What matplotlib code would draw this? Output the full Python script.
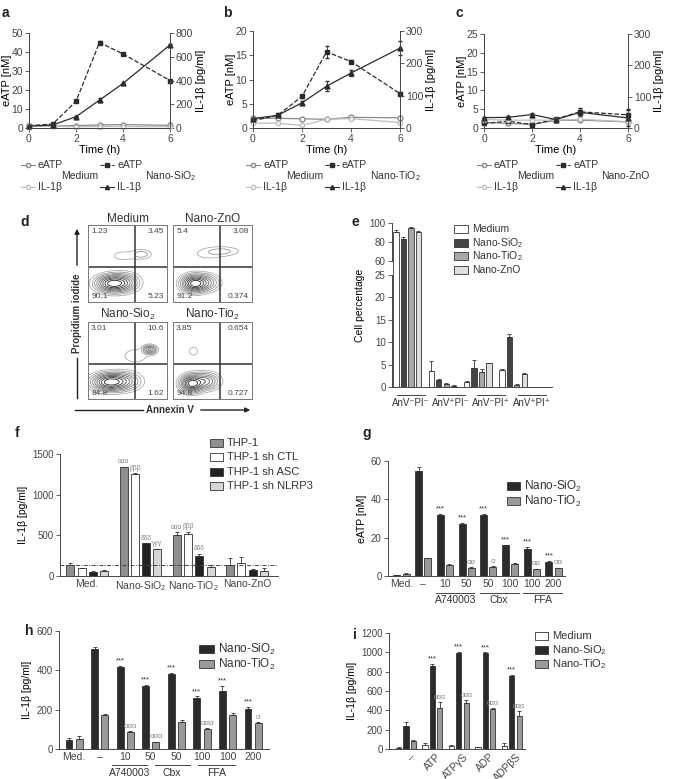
import numpy as np
import matplotlib.pyplot as plt
from matplotlib.patches import Rectangle

plt.rcParams['font.family'] = ['Liberation Sans', 'DejaVu Sans']
plt.rcParams['mathtext.fontset'] = 'custom'
plt.rcParams['mathtext.rm'] = 'Liberation Sans'
plt.rcParams['mathtext.default'] = 'regular'
plt.rcParams['axes.linewidth'] = 0.7
plt.rcParams['axes.edgecolor'] = '#444444'
plt.rcParams['text.color'] = '#333333'
plt.rcParams['xtick.color'] = '#444444'
plt.rcParams['ytick.color'] = '#444444'

W, H = 675, 779
DARK = '#2b2b2b'
GRAY = '#8a8a8a'
LIGHT = '#bdbdbd'
EDGE = '#333333'

# ---------------- data: a-c time courses ----------------
time_h = [0, 1, 2, 3, 4, 6]

a_eatp_med = [1.2, 1.0, 1.3, 1.6, 1.8, 1.4]
a_eatp_np = [1.3, 2.0, 14, 45, 39, 25]
a_eatp_np_err = [0.2, 0.2, 0.4, 1.0, 0.5, 0.4]
a_il_med = [15, 14, 10, 12, 12, 10]
a_il_np = [16, 25, 95, 235, 375, 700]
a_il_np_err = [3, 3, 5, 20, 8, 10]

b_eatp_med = [2.0, 2.0, 1.9, 1.8, 2.2, 2.1]
b_eatp_np = [1.5, 2.6, 6.5, 15.7, 13.7, 7.1]
b_eatp_np_err = [0.2, 0.2, 0.3, 1.2, 0.3, 0.3]
b_il_med = [15, 15, 8, 27, 29, 17]
b_il_np = [29, 39, 78, 129, 170, 247]
b_il_np_err = [2, 3, 4, 15, 8, 22]

c_eatp_med = [1.5, 1.2, 1.0, 2.0, 2.1, 1.6]
c_eatp_np = [1.2, 1.8, 0.9, 2.4, 4.3, 3.5]
c_eatp_np_err = [0.2, 0.2, 0.2, 0.3, 1.0, 1.5]
c_il_med = [27, 25, 25, 25, 28, 20]
c_il_np = [33, 34, 43, 27, 50, 32]
c_il_np_err = [2, 3, 4, 3, 8, 25]

# ---------------- data: d flow quadrants ----------------
d_titles = ['Medium', 'Nano-ZnO', 'Nano-Sio$_2$', 'Nano-Tio$_2$']
d_quadrants = [['1.23', '3.45', '90.1', '5.23'],
               ['5.4', '3.08', '91.2', '0.374'],
               ['3.01', '10.6', '84.8', '1.62'],
               ['3.85', '0.654', '94.8', '0.727']]
# blobs (cx, cy, sx, sy, weight)
d_blobs = [[(0.30, 0.24, 0.10, 0.055, 1.0), (0.44, 0.25, 0.10, 0.06, 0.5),
            (0.68, 0.62, 0.07, 0.035, 0.08), (0.45, 0.60, 0.12, 0.05, 0.03)],
           [(0.27, 0.24, 0.08, 0.055, 1.0), (0.40, 0.25, 0.09, 0.055, 0.35),
            (0.62, 0.66, 0.13, 0.035, 0.06), (0.45, 0.62, 0.14, 0.05, 0.025)],
           [(0.27, 0.22, 0.11, 0.055, 1.0), (0.44, 0.23, 0.11, 0.06, 0.4),
            (0.78, 0.64, 0.045, 0.03, 0.4), (0.60, 0.56, 0.10, 0.06, 0.04)],
           [(0.24, 0.20, 0.07, 0.055, 1.0), (0.40, 0.23, 0.09, 0.055, 0.45),
            (0.26, 0.62, 0.045, 0.045, 0.03)]]

# ---------------- data: e ----------------
e_groups = ['AnV\u207bPI\u207b', 'AnV\u207aPI\u207b', 'AnV\u207bPI\u207a', 'AnV\u207aPI\u207a']
e_series = ['Medium', 'Nano-SiO$_2$', 'Nano-TiO$_2$', 'Nano-ZnO']
e_vals = [[91, 3.6, 1.2, 3.8],
          [83, 1.6, 4.3, 11.1],
          [95, 0.6, 3.3, 0.5],
          [91, 0.3, 5.3, 3.0]]
e_errs = [[2, 2.3, 0.1, 0.2],
          [2.5, 0.1, 1.8, 0.7],
          [1, 0.2, 0.8, 0.1],
          [0.5, 0.1, 0.1, 0.1]]

# ---------------- data: f ----------------
f_groups = ['Med.', 'Nano-SiO$_2$', 'Nano-TiO$_2$', 'Nano-ZnO']
f_series = ['THP-1', 'THP-1 sh CTL', 'THP-1 sh ASC', 'THP-1 sh NLRP3']
f_vals = [[130, 1340, 510, 130],
          [95, 1260, 520, 160],
          [50, 400, 250, 70],
          [65, 330, 110, 60]]
f_errs = [[30, 5, 30, 95],
          [5, 5, 25, 75],
          [15, 5, 25, 10],
          [5, 5, 20, 40]]
f_baseline = 130
f_marks = [['', 'ααα', 'ααα', ''], ['', 'βββ', 'βββ', ''],
           ['', 'δδδ', 'δδδ', ''], ['', 'γγγ', '', '']]

# ---------------- data: g, h ----------------
gh_ticks = ['Med.', '\u2013', '10', '50', '50', '100', '100', '200']
gh_series = ['Nano-SiO$_2$', 'Nano-TiO$_2$']
g_sio2 = [0.3, 55, 31.8, 27.2, 32, 16, 14, 7.4]
g_sio2_err = [0.1, 2, 0.5, 0.4, 0.5, 0.3, 1.2, 0.4]
g_tio2 = [1.2, 9.3, 5.8, 4.2, 4.9, 6.3, 3.6, 4.1]
g_tio2_err = [0.4, 0.3, 0.3, 0.3, 0.3, 0.3, 0.3, 0.3]
g_marks_sio2 = ['', '', '***', '***', '***', '***', '***', '***']
g_marks_tio2 = ['', '', '', 'αα', 'α', '', 'αα', 'αα']

h_sio2 = [45, 510, 415, 322, 382, 258, 297, 205]
h_sio2_err = [10, 8, 6, 5, 5, 10, 25, 10]
h_tio2 = [52, 175, 87, 35, 135, 100, 172, 130]
h_tio2_err = [12, 5, 3, 3, 12, 5, 10, 5]
h_marks_sio2 = ['', '', '***', '***', '***', '***', '***', '***']
h_marks_tio2 = ['', '', 'ααα', 'ααα', '', 'ααα', '', 'α']
inhibitors = ['A740003', 'Cbx', 'FFA']

# ---------------- data: i ----------------
i_ticks = ['\u2013', 'ATP', 'ATPγS', 'ADP', 'ADPβS']
i_series = ['Medium', 'Nano-SiO$_2$', 'Nano-TiO$_2$']
i_med = [15, 40, 35, 20, 35]
i_med_err = [3, 25, 8, 3, 25]
i_sio2 = [240, 860, 995, 995, 755]
i_sio2_err = [40, 20, 10, 5, 15]
i_tio2 = [80, 420, 475, 410, 345]
i_tio2_err = [8, 65, 30, 15, 45]
i_marks_sio2 = ['', '***', '***', '***', '***']
i_marks_tio2 = ['', 'ααα', 'ααα', 'ααα', 'ααα']


fig = plt.figure(figsize=(W / 100, H / 100), dpi=100)


def px_axes(box):
    l, t, r, b = box
    return fig.add_axes([l / W, 1 - b / H, (r - l) / W, (b - t) / H])


def yfrac(box, ypx):
    l, t, r, b = box
    return (b - ypx) / (b - t)


def clean(ax, fs=7):
    ax.spines['top'].set_visible(False)
    ax.spines['right'].set_visible(False)
    ax.tick_params(axis='y', direction='out', length=3, width=0.6, labelsize=fs, pad=1.5)
    ax.tick_params(axis='x', length=0, labelsize=fs + 0.5, pad=2)


def bars(ax, xs, vals, errs, color, width):
    ax.bar(xs, vals, width=width, color=color, edgecolor=EDGE, linewidth=0.6, zorder=2)
    ax.errorbar(xs, vals, yerr=[np.zeros(len(vals)), errs], fmt='none', ecolor=EDGE,
                elinewidth=0.6, capsize=1.3, capthick=0.6, zorder=3)


def marks(ax, xs, vals, errs, labels, color, fs=5.5):
    for x, v, e, s in zip(xs, vals, errs, labels):
        if s:
            ax.annotate(s, (x, v + e), xytext=(0, 1), textcoords='offset points',
                        ha='center', va='bottom', fontsize=fs, color=color)


# ---------------- a-c ----------------
def time_panel(box, ylim_l, step_l, ylim_r, step_r, em, en, ene, im, inn, ine):
    ax = px_axes(box)
    ax2 = ax.twinx()
    ax.plot(time_h, em, color=GRAY, marker='o', mfc='white', ms=3.5, lw=0.9, clip_on=False, zorder=3)
    ax.errorbar(time_h, en, yerr=ene, color=DARK, marker='s', ms=3.5, ls='--', lw=0.9,
                elinewidth=0.6, capsize=1.5, clip_on=False, zorder=4)
    ax2.plot(time_h, im, color=LIGHT, marker='o', mfc='white', ms=3, lw=0.9, clip_on=False)
    ax2.errorbar(time_h, inn, yerr=ine, color=DARK, marker='^', ms=3.5, ls='-', lw=0.9,
                 elinewidth=0.6, capsize=1.5, clip_on=False)
    ax.set_xlim(0, 6)
    ax.set_ylim(0, ylim_l)
    ax2.set_ylim(0, ylim_r)
    ax.set_xticks([0, 2, 4, 6])
    ax.set_yticks(np.arange(0, ylim_l + 1, step_l))
    ax2.set_yticks(np.arange(0, ylim_r + 1, step_r))
    for a in (ax, ax2):
        a.spines['top'].set_visible(False)
        a.tick_params(direction='out', length=3, width=0.6, labelsize=7.5, pad=1.2)
    ax.spines['right'].set_visible(False)
    ax.set_xlabel('Time (h)', fontsize=8, labelpad=1)
    ax.set_ylabel('eATP [nM]', fontsize=8, labelpad=0)
    ax2.set_ylabel('IL-1β [pg/ml]', fontsize=8, labelpad=2)
    return ax


time_panel((29, 33, 170, 128), 50, 10, 800, 200,
           a_eatp_med, a_eatp_np, a_eatp_np_err, a_il_med, a_il_np, a_il_np_err)
time_panel((253, 31, 400, 128), 20, 5, 300, 100,
           b_eatp_med, b_eatp_np, b_eatp_np_err, b_il_med, b_il_np, b_il_np_err)
time_panel((484, 34, 628, 128), 25, 5, 300, 100,
           c_eatp_med, c_eatp_np, c_eatp_np_err, c_il_med, c_il_np, c_il_np_err)

# ---------------- d ----------------
d_boxes = [(88, 225, 167, 302), (173, 225, 252, 302), (88, 322, 167, 399), (173, 322, 252, 399)]
gx = np.linspace(0, 1, 160)
GX, GY = np.meshgrid(gx, gx)
rel_levels = [0.015, 0.04, 0.08, 0.14, 0.22, 0.32, 0.45, 0.6, 0.78]
for box, title, quad, blobs in zip(d_boxes, d_titles, d_quadrants, d_blobs):
    ax = px_axes(box)
    Z = np.zeros_like(GX)
    for cx, cy, sx, sy, w in blobs:
        Z += w * np.exp(-0.5 * (((GX - cx) / sx) ** 2 + ((GY - cy) / sy) ** 2))
    cols = plt.cm.Greys(np.linspace(0.45, 0.95, len(rel_levels)))
    ax.contour(GX, GY, Z, levels=np.array(rel_levels) * Z.max(), colors=cols, linewidths=0.55)
    ax.axvline(0.6, color='#333333', lw=1.1)
    ax.axhline(0.46, color='#333333', lw=1.1)
    ax.set_xlim(0, 1)
    ax.set_ylim(0, 1)
    ax.set_xticks([])
    ax.set_yticks([])
    for s in ax.spines.values():
        s.set_color('#777777')
    ax.set_title(title, fontsize=8.5, pad=2, color='#333333')
    kw = dict(fontsize=6, color='#444444', transform=ax.transAxes)
    ax.text(0.04, 0.96, quad[0], ha='left', va='top', **kw)
    ax.text(0.96, 0.96, quad[1], ha='right', va='top', **kw)
    ax.text(0.04, 0.02, quad[2], ha='left', va='bottom', **kw)
    ax.text(0.96, 0.02, quad[3], ha='right', va='bottom', **kw)

# ---------------- e (broken axis) ----------------
def e_fwd(v):
    v = np.asarray(v, dtype=float)
    return np.where(v <= 25, v, np.where(v <= 60, 25 + (v - 25) * 3.125 / 35,
                                          28.125 + (v - 60) * 0.212))


def e_inv(u):
    u = np.asarray(u, dtype=float)
    return np.where(u <= 25, u, np.where(u <= 28.125, 25 + (u - 25) * 35 / 3.125,
                                          60 + (u - 28.125) / 0.212))


e_box = (392, 223, 552, 387)
ax = px_axes(e_box)
e_colors = ['white', '#444444', '#a8a8a8', '#dedede']
for k, (vals, errs, col) in enumerate(zip(e_vals, e_errs, e_colors)):
    bars(ax, np.arange(4) + k * 0.212, vals, errs, col, 0.15)
ax.set_yscale('function', functions=(e_fwd, e_inv))
ax.set_ylim(0, 100)
ax.set_xlim(-0.113, 4.42)
ax.set_yticks([0, 5, 10, 15, 20, 25, 60, 80, 100])
ax.minorticks_off()
clean(ax, 7)
ax.set_xticks([])
ax.spines['left'].set_bounds(0, 25)
ax.plot([0, 0], [60, 100], transform=ax.get_yaxis_transform(), color='#444444', lw=0.7, clip_on=False)
ax.set_ylabel('Cell percentage', fontsize=7.5, labelpad=3)
e_label_x = [0.42, 1.56, 2.69, 3.85]
for x, lab in zip(e_label_x, e_groups):
    ax.plot([x - 0.4, x + 0.4], [yfrac(e_box, 395)] * 2, transform=ax.get_xaxis_transform(),
            color='#444444', lw=0.7, clip_on=False)
    ax.text(x, yfrac(e_box, 403), lab, transform=ax.get_xaxis_transform(), ha='center',
            va='center', fontsize=7)

# ---------------- f ----------------
f_box = (60, 454, 278, 576)
ax = px_axes(f_box)
f_colors = ['#8f8f8f', 'white', '#222222', '#d6d6d6']
for k, (vals, errs, col, mk) in enumerate(zip(f_vals, f_errs, f_colors, f_marks)):
    xs = np.arange(4) + (k - 1.5) * 0.212
    bars(ax, xs, vals, errs, col, 0.15)
    marks(ax, xs, vals, errs, mk, '#888888', 4.8)
ax.axhline(f_baseline, color='#444444', lw=0.7, ls=(0, (4, 1.5, 1, 1.5)), zorder=4)
ax.set_xlim(-0.51, 3.58)
ax.set_ylim(0, 1500)
ax.set_yticks([0, 500, 1000, 1500])
clean(ax, 7)
ax.set_xticks(range(4))
ax.set_xticklabels(f_groups)
ax.set_ylabel('IL-1β [pg/ml]', fontsize=7.5, labelpad=3)


# ---------------- g, h ----------------
def inhibitor_panel(box, sio2, sio2e, tio2, tio2e, ms, mt, ylim, step, ylab, off, width,
                    line_spans, text_x, y_line, y_text):
    ax = px_axes(box)
    xs = np.arange(len(sio2))
    bars(ax, xs - off, sio2, sio2e, DARK, width)
    bars(ax, xs + off, tio2, tio2e, '#9a9a9a', width)
    marks(ax, xs - off, sio2, sio2e, ms, '#333333', 5.5)
    marks(ax, xs + off, tio2, tio2e, mt, '#888888', 5.5)
    ax.set_ylim(0, ylim)
    ax.set_yticks(np.arange(0, ylim + 1, step))
    clean(ax, 7)
    ax.set_xticks(xs)
    ax.set_xticklabels(gh_ticks)
    ax.set_ylabel(ylab, fontsize=7.5, labelpad=3)
    tr = ax.get_xaxis_transform()
    for (x0, x1), tx, lab in zip(line_spans, text_x, inhibitors):
        ax.plot([x0, x1], [yfrac(box, y_line)] * 2, transform=tr, color='#444444', lw=0.7, clip_on=False)
        ax.text(tx, yfrac(box, y_text), lab, transform=tr, ha='center', va='center', fontsize=7.5)
    return ax


g_box = (388, 461, 565, 576)
ax = inhibitor_panel(g_box, g_sio2, g_sio2_err, g_tio2, g_tio2_err, g_marks_sio2, g_marks_tio2,
                     60, 20, 'eATP [nM]', 0.21, 0.32,
                     [(1.6, 3.35), (3.6, 5.4), (5.6, 7.4)], [2.5, 4.5, 6.5], 593, 600)
ax.set_xlim(-0.62, 7.53)

h_box = (59, 631, 269, 749)
ax = inhibitor_panel(h_box, h_sio2, h_sio2_err, h_tio2, h_tio2_err, h_marks_sio2, h_marks_tio2,
                     600, 200, 'IL-1β [pg/ml]', 0.2, 0.27,
                     [(1.47, 2.84), (3.16, 4.53), (4.86, 6.29)], [2.19, 3.81, 5.57], 765, 773)
ax.set_xlim(-0.59, 7.62)

# ---------------- i ----------------
i_box = (389, 633, 525, 749)
ax = px_axes(i_box)
xs = np.arange(5)
bars(ax, xs - 0.28, i_med, i_med_err, 'white', 0.2)
bars(ax, xs, i_sio2, i_sio2_err, DARK, 0.2)
bars(ax, xs + 0.28, i_tio2, i_tio2_err, '#9a9a9a', 0.2)
marks(ax, xs, i_sio2, i_sio2_err, i_marks_sio2, '#333333')
marks(ax, xs + 0.28, i_tio2, i_tio2_err, i_marks_tio2, '#888888', 5)
ax.set_xlim(-0.64, 4.5)
ax.set_ylim(0, 1200)
ax.set_yticks(np.arange(0, 1201, 200))
clean(ax, 7)
ax.set_xticks(xs + 0.15)
ax.set_xticklabels(i_ticks, rotation=45, ha='right', va='top', rotation_mode='anchor')
ax.set_ylabel('IL-1β [pg/ml]', fontsize=7.5, labelpad=3)

# ---------------- overlay: letters, legends, arrows ----------------
ov = fig.add_axes([0, 0, 1, 1])
ov.set_xlim(0, W)
ov.set_ylim(H, 0)
ov.axis('off')
ov.patch.set_alpha(0)

for lab, x, y in [('a', 2, 13), ('b', 223, 13), ('c', 455, 13), ('d', 20, 222), ('e', 352, 222),
                  ('f', 15, 433), ('g', 362, 433), ('h', 25, 631), ('i', 353, 635)]:
    ov.text(x, y, lab, fontsize=10, fontweight='bold', ha='left', va='center', color='#222222')

for L, nano in [(28, 'Nano-SiO$_2$'), (253, 'Nano-TiO$_2$'), (484, 'Nano-ZnO')]:
    # medium column
    ov.plot([L - 7, L + 7], [165, 165], color=GRAY, lw=0.8)
    ov.plot([L], [165], marker='o', color=GRAY, mfc='white', ms=3)
    ov.plot([L - 7, L + 7], [187, 187], color=LIGHT, lw=0.8)
    ov.plot([L], [187], marker='o', color=LIGHT, mfc='white', ms=3)
    # nanoparticle column
    M = L + 79
    ov.plot([M - 7, M + 7], [165, 165], color=DARK, lw=0.8, ls='--')
    ov.plot([M], [165], marker='s', color=DARK, ms=3)
    ov.plot([M - 7, M + 7], [187, 187], color=DARK, lw=0.8)
    ov.plot([M], [187], marker='^', color=DARK, ms=3)
    for x in (L, M):
        ov.text(x + 10, 165, 'eATP', fontsize=7.5, va='center', ha='left')
        ov.text(x + 10, 187, 'IL-1β', fontsize=7.5, va='center', ha='left')
    ov.text(L + 52, 176, 'Medium', fontsize=7.5, va='center', ha='center')
    ov.text(L + 117, 176, nano, fontsize=7.5, va='center', ha='left')


def patch_legend(x, y0, dy, labels, colors, fs=7.5, bw=13, bh=8):
    for k, (lab, col) in enumerate(zip(labels, colors)):
        y = y0 + k * dy
        ov.add_patch(Rectangle((x, y - bh / 2), bw, bh, facecolor=col, edgecolor=EDGE, lw=0.6))
        ov.text(x + bw + 4, y, lab, va='center', ha='left', fontsize=fs)


patch_legend(454, 229, 13.7, e_series, e_colors, fs=7.5, bw=14)
patch_legend(210, 443, 14.3, f_series, f_colors, fs=8)
patch_legend(507, 486, 15, gh_series, [DARK, '#9a9a9a'], fs=8.5)
patch_legend(199, 649, 15, gh_series, [DARK, '#9a9a9a'], fs=8.5, bw=15)
patch_legend(535, 636, 14, i_series, ['white', DARK, '#9a9a9a'], fs=8)

arrow_kw = dict(arrowstyle='-|>', color='#222222', lw=1.0, mutation_scale=7)
ov.plot([77, 77], [398, 358], color='#222222', lw=1.0)
ov.annotate('', xy=(77, 226), xytext=(77, 268), arrowprops=arrow_kw)
ov.text(77, 313, 'Propidium iodide', rotation=90, ha='center', va='center', fontsize=7, fontweight='bold')
ov.plot([75, 143], [410, 410], color='#222222', lw=1.0)
ov.annotate('', xy=(253, 410), xytext=(198, 410), arrowprops=arrow_kw)
ov.text(170, 410, 'Annexin V', ha='center', va='center', fontsize=7, fontweight='bold')

fig.savefig('out.png', dpi=100)
